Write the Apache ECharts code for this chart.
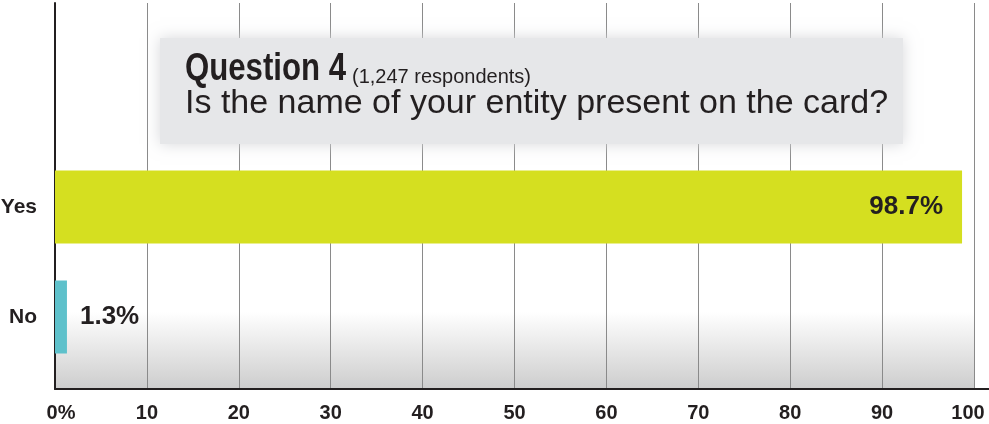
<!DOCTYPE html>
<html>
<head>
<meta charset="utf-8">
<script src="https://cdn.jsdelivr.net/npm/echarts@6/dist/echarts.min.js"></script>
<style>
html,body{margin:0;padding:0;background:#fff;}
#chart{width:989px;height:424px;}
</style>
</head>
<body>
<div id="chart"></div>
<script>
const categories = ['No', 'Yes'];
const values = [1.3, 98.7];
const barColors = ['#5ec1cb', '#d5df20'];
const xMin = 0, xMax = 100, xInterval = 10;
const titleMain = 'Question 4';
const titleSub = '(1,247 respondents)';
const question = 'Is the name of your entity present on the card?';

const bold = '"Liberation Sans", Arial, sans-serif';
const regular = '"Liberation Sans", Arial, sans-serif';
const ink = '#231f20';

const tickStyle = {color: ink, fontFamily: bold, fontWeight: 'bold', fontSize: 20};

const chart = echarts.init(document.getElementById('chart'), null, {renderer: 'canvas'});
chart.setOption({
  animation: false,
  backgroundColor: '#ffffff',
  grid: [
    {left: 55, right: 15, top: 3, bottom: 35, show: true, borderWidth: 0, outerBoundsMode: 'none', containLabel: false,
     backgroundColor: new echarts.graphic.LinearGradient(0, 0, 0, 1, [
       {offset: 0, color: '#ffffff'},
       {offset: 0.8, color: '#ffffff'},
       {offset: 1, color: '#cdcdcd'}
     ])},
    {left: 55, right: 15, top: 152, bottom: 52, outerBoundsMode: 'none', containLabel: false},
    {left: 55, right: 0, top: 3, bottom: 35, outerBoundsMode: 'none', containLabel: false}
  ],
  xAxis: [
    {gridIndex: 0, type: 'value', min: xMin, max: xMax, interval: xInterval,
     axisLine: {show: false}, axisTick: {show: false},
     splitLine: {show: true, lineStyle: {color: '#8a8a8a', width: 1}},
     axisLabel: Object.assign({margin: 14,
       formatter: v => v === xMin ? '{first|0%}' : (v === xMax ? '{last|' + v + '}' : String(v)),
       rich: {
         first: Object.assign({padding: [0, 0, 0, 12]}, tickStyle),
         last: Object.assign({padding: [0, 12, 0, 0]}, tickStyle)
       }}, tickStyle)},
    {gridIndex: 1, type: 'value', min: xMin, max: xMax, show: false},
    {gridIndex: 2, type: 'value', min: 0, max: 1, axisLabel: {show: false}, axisTick: {show: false},
     splitLine: {show: false}, axisLine: {show: true, lineStyle: {color: ink, width: 2}}}
  ],
  yAxis: [
    {gridIndex: 0, type: 'value', min: 0, max: 1, axisLabel: {show: false}, axisTick: {show: false},
     splitLine: {show: false}, axisLine: {show: true, onZero: false, lineStyle: {color: ink, width: 2}}},
    {gridIndex: 1, type: 'category', data: categories, axisLine: {show: false}, axisTick: {show: false},
     axisLabel: {margin: 18, color: ink, fontFamily: bold, fontWeight: 'bold', fontSize: 21}},
    {gridIndex: 2, type: 'value', show: false}
  ],
  series: [{
    type: 'bar', xAxisIndex: 1, yAxisIndex: 1, barWidth: 73, z: 3,
    data: values.map((v, i) => ({
      value: v,
      itemStyle: {color: barColors[i]},
      label: {
        show: true,
        position: v > 50 ? 'insideRight' : 'right',
        distance: v > 50 ? 19 : 13,
        formatter: p => p.value + '%',
        color: ink, fontFamily: bold, fontWeight: 'bold', fontSize: 26
      }
    }))
  }],
  graphic: [
    {type: 'rect', z: 10, shape: {x: 160, y: 38, width: 743, height: 106},
     style: {fill: '#e6e7e9', shadowBlur: 14, shadowColor: 'rgba(215,216,219,1)'}},
    {type: 'text', z: 11, x: 185, y: 70, scaleX: 0.82,
     style: {text: titleMain, fill: ink, font: 'bold 38px ' + bold, verticalAlign: 'middle', align: 'left'}},
    {type: 'text', z: 11, x: 352, y: 77,
     style: {text: titleSub, fill: ink, font: '20px ' + regular, verticalAlign: 'middle', align: 'left'}},
    {type: 'text', z: 11, x: 185, y: 104,
     style: {text: question, fill: ink, font: '34px ' + regular, verticalAlign: 'middle', align: 'left'}}
  ]
});
</script>
</body>
</html>
